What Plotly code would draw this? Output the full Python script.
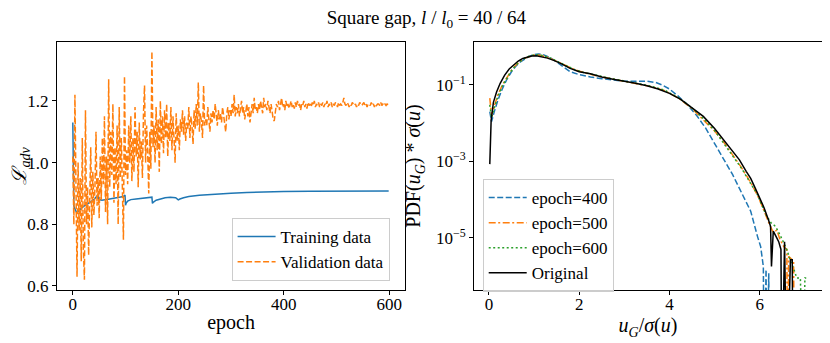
import plotly.graph_objects as go

# ---- left panel: adversarial loss per epoch ----
train_epoch = [0, 1, 2, 4, 6, 8, 10, 14, 18, 22, 26, 30, 35, 40, 45, 48, 50, 52, 55, 60,
               70, 80, 90, 96, 99, 100, 101, 104, 110, 120, 130, 140, 148, 150, 151, 153,
               158, 165, 175, 185, 195, 200, 203, 210, 220, 240, 260, 280, 300, 330, 360,
               400, 450, 500, 550, 599]
train_loss = [1.13, 0.88, 0.86, 0.85, 0.842, 0.835, 0.842, 0.85, 0.855, 0.86, 0.865, 0.87,
              0.875, 0.88, 0.89, 0.895, 0.875, 0.88, 0.878, 0.88, 0.882, 0.885, 0.888, 0.89,
              0.895, 0.862, 0.868, 0.875, 0.88, 0.882, 0.884, 0.885, 0.886, 0.888, 0.868,
              0.872, 0.878, 0.882, 0.886, 0.888, 0.886, 0.879, 0.882, 0.886, 0.89, 0.894,
              0.897, 0.899, 0.901, 0.903, 0.905, 0.906, 0.907, 0.908, 0.908, 0.908]

val_epoch = list(range(0, 599, 2))
val_loss = [
    1.02, 0.80, 1.22, 0.84, 0.63, 1.00, 0.78, 0.95, 0.68, 1.08,
    0.72, 0.62, 1.17, 0.80, 0.92, 0.70, 0.86, 1.05, 0.79, 0.97,
    0.83, 0.92, 1.10, 0.86, 0.95, 0.82, 1.02, 0.88, 1.08, 0.93,
    1.15, 0.84, 1.02, 0.80, 1.27, 0.92, 1.10, 0.96, 1.19, 0.87,
    1.05, 0.93, 1.12, 0.80, 1.18, 0.95, 1.08, 0.90, 0.75, 1.28,
    0.96, 1.04, 0.93, 1.12, 1.00, 1.15, 0.94, 1.08, 0.97, 1.18,
    1.02, 1.10, 0.92, 1.13, 1.01, 1.07, 0.95, 1.16, 1.25, 1.00,
    1.12, 1.03, 0.90, 1.10, 0.98, 1.36, 1.05, 1.12, 1.00, 1.18,
    1.04, 1.14, 0.97, 1.20, 1.06, 1.15, 1.03, 1.17, 1.08, 1.19,
    1.02, 1.13, 1.07, 1.18, 1.04, 1.15, 1.09, 1.00, 1.16, 1.07,
    1.12, 1.04, 1.14, 1.10, 1.17, 1.09, 1.15, 1.07, 1.13, 1.11,
    1.18, 1.08, 1.15, 1.12, 1.06, 1.17, 1.11, 1.19, 1.12, 1.26,
    1.10, 1.16, 1.13, 1.08, 1.25, 1.12,
    1.14, 1.12, 1.18, 1.15, 1.10, 1.16, 1.13, 1.17, 1.14, 1.19,
    1.15, 1.12, 1.17, 1.14, 1.16, 1.13, 1.18, 1.15, 1.11, 1.10,
    1.16, 1.18, 1.14, 1.17, 1.15, 1.19, 1.16, 1.22, 1.15, 1.18,
    1.16, 1.19, 1.15, 1.17, 1.20, 1.16, 1.18, 1.14, 1.17, 1.19,
    1.15, 1.18, 1.13, 1.17, 1.19, 1.16, 1.21, 1.17, 1.18, 1.16,
    1.19, 1.17, 1.20, 1.18, 1.16, 1.21, 1.18, 1.19, 1.17, 1.20,
    1.18, 1.16, 1.19, 1.17, 1.14, 1.135, 1.17, 1.19, 1.18, 1.20,
    1.17, 1.19, 1.21, 1.18, 1.19, 1.17, 1.20, 1.18, 1.19, 1.175,
    1.19, 1.20, 1.18, 1.19, 1.175, 1.195, 1.18, 1.20, 1.185, 1.19,
    1.17, 1.19, 1.185, 1.20, 1.18, 1.19, 1.175, 1.195, 1.185, 1.19,
    1.18, 1.195, 1.185, 1.20, 1.18, 1.19, 1.185, 1.195, 1.18, 1.19,
    1.185, 1.195, 1.18, 1.19, 1.185, 1.20, 1.18, 1.19, 1.185, 1.195,
    1.18, 1.19, 1.185, 1.195, 1.19, 1.18, 1.195, 1.185, 1.19, 1.185,
    1.195, 1.21, 1.19, 1.185, 1.195, 1.19, 1.18, 1.19, 1.185, 1.195,
    1.19, 1.185, 1.19, 1.18, 1.19, 1.185, 1.195, 1.19, 1.185, 1.19,
    1.195, 1.185, 1.19, 1.18, 1.19, 1.19, 1.185, 1.195, 1.185, 1.19,
    1.18, 1.19, 1.185, 1.19, 1.19, 1.185, 1.195, 1.185, 1.19, 1.185,
    1.19, 1.185, 1.19, 1.188,
]

# ---- right panel: PDF of u_G / sigma(u) ----
u_400 = [0.02, 0.06, 0.12, 0.2, 0.3, 0.4, 0.5, 0.6, 0.7, 0.8, 0.9, 1.0, 1.1, 1.2, 1.35,
         1.5, 1.65, 1.8, 2.0, 2.25, 2.5, 2.75, 3.0, 3.25, 3.5, 3.7, 3.85, 4.0, 4.2, 4.4,
         4.6, 4.8, 5.0, 5.2, 5.4, 5.6, 5.8, 5.95, 6.02, 6.08, 6.1, 6.14, 6.16, 6.2, 6.22]
pdf_400 = [0.02, 0.011, 0.02, 0.04, 0.08, 0.14, 0.22, 0.31, 0.4, 0.48, 0.56, 0.62, 0.64,
           0.62, 0.52, 0.4, 0.3, 0.22, 0.185, 0.16, 0.145, 0.135, 0.125, 0.125, 0.125,
           0.115, 0.098, 0.078, 0.05, 0.03, 0.016, 0.0075, 0.003, 0.0012, 4.5e-4, 1.5e-4,
           5e-5, 1.1e-5, 6e-6, 1.8e-6, 1e-9, 1.5e-6, 1e-9, 1.2e-6, 1e-9]

u_500 = [0.02, 0.06, 0.12, 0.2, 0.3, 0.4, 0.5, 0.6, 0.7, 0.8, 0.9, 1.0, 1.1, 1.2, 1.35,
         1.5, 1.7, 1.9, 2.1, 2.4, 2.7, 3.0, 3.3, 3.6, 3.9, 4.2, 4.5, 4.8, 5.0, 5.2, 5.4,
         5.6, 5.8, 5.95, 6.05, 6.15, 6.22, 6.3, 6.38, 6.45, 6.53, 6.6, 6.62, 6.64, 6.7,
         6.75, 6.77]
pdf_500 = [0.045, 0.016, 0.028, 0.055, 0.1, 0.16, 0.24, 0.33, 0.42, 0.5, 0.56, 0.6, 0.6,
           0.57, 0.5, 0.42, 0.32, 0.25, 0.21, 0.17, 0.145, 0.125, 0.108, 0.09, 0.07,
           0.045, 0.024, 0.011, 0.0062, 0.0032, 0.0015, 6.8e-4, 2.8e-4, 1.3e-4, 7e-5,
           3.5e-5, 2.2e-5, 1.4e-5, 1.6e-5, 9e-6, 6e-6, 5e-6, 1e-9, 3.3e-6, 2.8e-6,
           2.5e-6, 1e-9]

u_600 = [0.02, 0.06, 0.12, 0.2, 0.3, 0.4, 0.5, 0.6, 0.7, 0.8, 0.9, 1.0, 1.1, 1.2, 1.35,
         1.5, 1.7, 1.9, 2.1, 2.4, 2.7, 3.0, 3.3, 3.6, 3.9, 4.2, 4.5, 4.8, 5.0, 5.2, 5.4,
         5.6, 5.8, 5.95, 6.05, 6.15, 6.25, 6.35, 6.45, 6.55, 6.6, 6.68, 6.75, 6.82, 6.9,
         6.97, 7.0, 7.03]
pdf_600 = [0.03, 0.014, 0.025, 0.05, 0.095, 0.155, 0.235, 0.33, 0.42, 0.5, 0.57, 0.61,
           0.61, 0.58, 0.51, 0.42, 0.32, 0.25, 0.21, 0.172, 0.147, 0.126, 0.11, 0.092,
           0.072, 0.046, 0.025, 0.0115, 0.0064, 0.0031, 0.0014, 6.5e-4, 2.7e-4, 1.35e-4,
           7e-5, 3.8e-5, 2.5e-5, 2e-5, 1.2e-5, 7e-6, 5e-6, 2.5e-6, 1.6e-6, 9e-7, 9e-7,
           1e-9, 9e-7, 9e-7]

u_orig = [0.02, 0.05, 0.1, 0.17, 0.25, 0.35, 0.45, 0.55, 0.65, 0.75, 0.85, 0.95, 1.05,
          1.15, 1.3, 1.45, 1.6, 1.8, 2.0, 2.25, 2.5, 2.75, 3.0, 3.25, 3.5, 3.75, 4.0,
          4.25, 4.5, 4.75, 5.0, 5.2, 5.4, 5.55, 5.7, 5.8, 5.9, 6.0, 6.1, 6.2, 6.24, 6.26,
          6.3, 6.36, 6.42, 6.47, 6.49, 6.55, 6.58, 6.6, 6.68, 6.72, 6.74]
pdf_orig = [8.5e-4, 0.012, 0.035, 0.065, 0.11, 0.18, 0.26, 0.34, 0.42, 0.49, 0.54, 0.57,
            0.575, 0.55, 0.5, 0.43, 0.36, 0.27, 0.22, 0.195, 0.16, 0.14, 0.125, 0.11,
            0.095, 0.078, 0.06, 0.042, 0.025, 0.015, 0.0072, 0.0037, 0.0019, 0.0011,
            5.5e-4, 3.6e-4, 2.0e-4, 1.1e-4, 6e-5, 2.8e-5, 2.0e-5, 1.8e-6, 1.5e-5,
            1.1e-5, 8e-6, 5e-6, 1e-9, 8e-6, 1e-9, 1e-9, 2.7e-6, 2.7e-6, 1e-9]

BLUE, ORANGE, GREEN = "#1f77b4", "#ff7f0e", "#2ca02c"
FONT = "Liberation Serif"
DASH, DASHDOT, DOT = "6px,2.5px", "7px,2.5px,2px,2.5px", "2px,2.5px"

# the page body has an 8px margin, so the figure is drawn 8px smaller
W, H = 822, 335

fig = go.Figure()

fig.add_trace(go.Scatter(x=train_epoch, y=train_loss, mode="lines", name="Training data",
                         line=dict(color=BLUE, width=1.5), xaxis="x", yaxis="y",
                         legend="legend"))
fig.add_trace(go.Scatter(x=val_epoch, y=val_loss, mode="lines", name="Validation data",
                         line=dict(color=ORANGE, width=1.5, dash=DASH), xaxis="x",
                         yaxis="y", legend="legend"))

for u, p, name, col, dash in [
    (u_400, pdf_400, "epoch=400", BLUE, DASH),
    (u_500, pdf_500, "epoch=500", ORANGE, DASHDOT),
    (u_600, pdf_600, "epoch=600", GREEN, DOT),
    (u_orig, pdf_orig, "Original", "black", "solid"),
]:
    fig.add_trace(go.Scatter(x=u, y=p, mode="lines", name=name,
                             line=dict(color=col, width=1.5, dash=dash),
                             xaxis="x2", yaxis="y2", legend="legend2"))

axis_common = dict(showline=True, mirror=True, linecolor="black", linewidth=1,
                   ticks="outside", ticklen=4, tickcolor="black", showgrid=False,
                   zeroline=False, automargin=False,
                   tickfont=dict(family=FONT, size=17, color="black"))

legend_common = dict(bgcolor="rgba(255,255,255,0.8)", bordercolor="#cccccc", borderwidth=1,
                     font=dict(family=FONT, size=17, color="black"), itemwidth=38,
                     xanchor="left", yanchor="top", tracegroupgap=0)

fig.update_layout(
    width=W, height=H,
    margin=dict(l=0, r=0, t=0, b=0),
    paper_bgcolor="white", plot_bgcolor="white",
    font=dict(family=FONT, size=17, color="black"),
    title=dict(text="Square gap, <i>l</i> / <i>l</i><sub>0</sub> = 40 / 64",
               x=0.509, xanchor="center", y=0.973, yanchor="middle",
               font=dict(family=FONT, size=19, color="black")),
    xaxis=dict(domain=[0.0596, 0.483], range=[-30, 630], tickvals=[0, 200, 400, 600],
               ticklabelstandoff=-5,
               title=dict(text="epoch", standoff=1), **axis_common),
    yaxis=dict(domain=[0.1582, 0.8985], range=[0.587, 1.391],
               tickvals=[0.6, 0.8, 1.0, 1.2], ticktext=["0.6", "0.8", "1.0", "1.2"],
               title=dict(text="<i>ℒ</i><sub><i>adv</i></sub>", standoff=19), **axis_common),
    xaxis2=dict(domain=[0.5669, 0.9903], range=[-0.33, 7.38], tickvals=[0, 2, 4, 6],
                anchor="y2", ticklabelstandoff=-5,
                title=dict(text="<i>u</i><sub><i>G</i></sub>/<i>σ</i>(<i>u</i>)", standoff=1),
                **axis_common),
    yaxis2=dict(domain=[0.1582, 0.8985], type="log", range=[-6.36, 0.12], anchor="x2",
                tickvals=[1e-1, 1e-3, 1e-5],
                ticktext=["10<sup>−1</sup>", "10<sup>−3</sup>", "10<sup>−5</sup>"],
                title=dict(text="PDF(<i>u</i><sub><i>G</i></sub>) * <i>σ</i>(<i>u</i>)",
                           standoff=9),
                **axis_common),
    legend=dict(x=0.272, y=0.373, **legend_common),
    legend2=dict(x=0.5775, y=0.4896, **legend_common),
)

fig.write_html("out.html")
